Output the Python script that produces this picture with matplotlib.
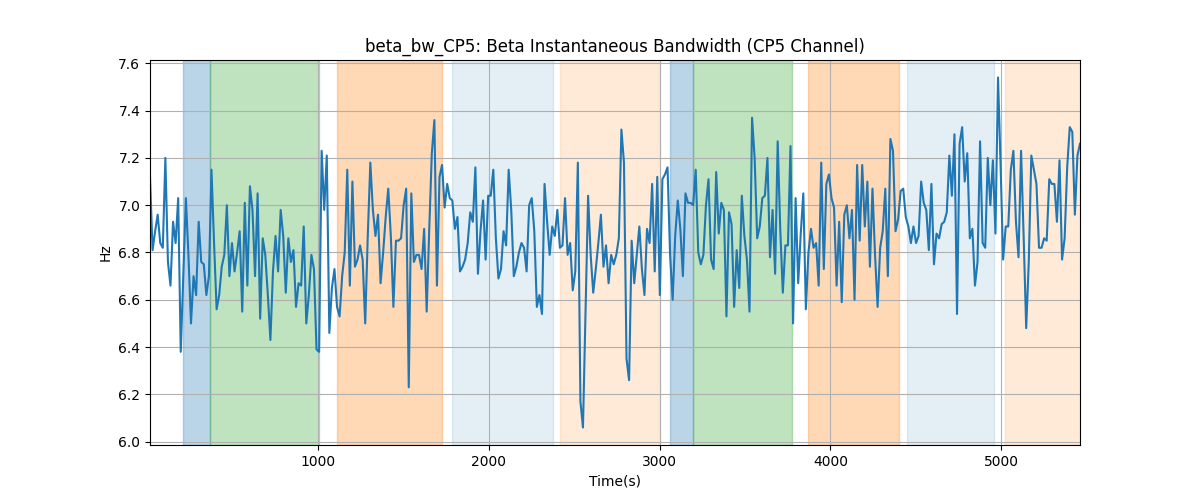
import numpy as np
import matplotlib
matplotlib.use("Agg")
import matplotlib.pyplot as plt

seg1 = [7.12, 6.81, 6.89, 6.96, 6.84, 6.82, 7.20, 6.76, 6.66, 6.93, 6.84, 7.03, 6.38, 6.70, 7.03,
        6.79, 6.50, 6.70, 6.62, 6.93, 6.76, 6.75, 6.62, 6.70, 7.15, 6.84, 6.56, 6.62, 6.74, 6.79,
        7.00, 6.70, 6.84, 6.72, 6.80, 6.89, 6.55, 7.01, 6.66, 7.08, 6.98, 6.70, 7.05, 6.52, 6.86]
seg2 = [6.79, 6.62, 6.43, 6.72, 6.87, 6.72, 6.98, 6.87, 6.63, 6.86, 6.76, 6.81, 6.57, 6.67, 6.66,
        6.91, 6.50, 6.62, 6.79, 6.73, 6.39, 6.38, 7.23, 6.98, 7.21, 6.46, 6.65, 6.73, 6.57, 6.53,
        6.70, 6.80, 7.15, 6.66, 7.10, 6.74, 6.77, 6.83, 6.77, 6.50, 6.87, 7.18, 6.98, 6.87, 6.96,
        6.67, 6.80]
seg3 = [6.95, 7.07, 6.87, 6.57, 6.85, 6.85, 6.86, 7.00, 7.07, 6.23, 7.05, 6.76, 6.79, 6.79, 6.73,
        6.90, 6.55, 6.90, 7.22, 7.36, 6.66, 7.12, 7.17, 6.99, 7.09, 7.03, 7.02, 6.90, 6.95, 6.72,
        6.74, 6.77, 6.84, 6.97, 6.93, 7.16, 6.71, 6.89, 7.02, 6.77, 7.04, 7.04, 7.15, 6.86, 6.69,
        6.73, 6.89, 6.83, 7.15, 6.98, 6.70]
seg4 = [6.74, 6.80, 6.84, 6.82, 6.72, 7.00, 7.03, 6.89, 6.57, 6.62, 6.54, 7.09, 6.93, 6.79, 6.91,
        6.87, 6.98, 6.82, 6.83, 7.03, 6.79, 6.84, 6.64, 6.72, 7.18, 6.17, 6.06, 6.55, 7.04, 6.79,
        6.63, 6.73, 6.84, 6.96, 6.74, 6.83, 6.67, 6.79, 6.75, 6.79, 6.86, 7.32, 7.18, 6.35, 6.26,
        6.85, 6.67]
seg5 = [6.79, 6.91, 6.73, 6.62, 6.90, 6.84, 7.09, 6.72, 7.12, 6.62, 7.11, 7.13, 7.16, 6.79, 6.60,
        6.87, 7.02, 6.90, 6.70, 7.05, 7.01, 7.01, 7.00, 7.15, 6.80, 6.75, 6.79, 7.00, 7.11, 6.77,
        6.73, 7.14, 6.88, 7.01, 6.98, 6.53, 6.97, 6.92, 6.57, 6.81, 6.65, 7.04, 6.87, 6.77, 6.55,
        7.37, 7.20]
seg6 = [6.86, 6.91, 7.03, 7.04, 7.20, 6.78, 6.98, 6.71, 7.27, 6.90, 6.63, 6.83, 6.83, 7.25, 6.50,
        7.03, 6.67, 6.88, 7.05, 6.56, 6.80, 6.90, 6.82, 6.84, 6.66, 7.18, 6.73, 7.09, 7.13, 7.03,
        6.99, 6.66, 6.93, 6.59, 6.96, 7.00, 6.86, 6.98, 6.60, 7.17, 6.85, 7.17, 6.91, 7.10, 6.74,
        7.07, 6.79]
seg7 = [6.57, 6.82, 6.89, 7.07, 6.70, 7.28, 7.23, 6.89, 6.94, 7.06, 7.07, 6.95, 6.91, 6.84, 6.91,
        6.84, 6.87, 7.10, 7.01, 6.98, 6.81, 7.09, 6.75, 6.88, 6.86, 6.92, 6.93, 6.97, 7.21, 7.04,
        7.30, 6.54, 7.26, 7.33, 7.10, 7.22, 6.86, 6.90, 6.66, 6.76, 7.27, 6.84, 6.82, 7.20, 7.00,
        7.19]
seg8 = [6.88, 7.54, 7.17, 6.77, 6.91, 6.91, 7.15, 7.23, 6.93, 6.78, 7.23, 6.87, 6.48, 6.76, 7.21,
        7.15, 7.09, 6.82, 6.82, 6.86, 6.85, 7.11, 7.09, 7.09, 6.93, 7.19, 6.77, 6.86, 7.16, 7.33,
        7.31, 6.96, 7.21, 7.26]

t_start = 16
t_end = 5461

span_starts = [210, 370, 1109, 1783, 2416, 3060, 3196, 3868, 4448, 5022]
span_ends = [370, 1008, 1728, 2375, 3001, 3196, 3772, 4401, 4957, 5470]
span_colors = ["tab:blue", "tab:green", "tab:orange", "tab:blue", "tab:orange",
               "tab:blue", "tab:green", "tab:orange", "tab:blue", "tab:orange"]
span_alphas = [0.3, 0.3, 0.3, 0.12, 0.16, 0.3, 0.3, 0.3, 0.12, 0.16]

values = np.array(seg1 + seg2 + seg3 + seg4 + seg5 + seg6 + seg7 + seg8)
t = np.linspace(t_start, t_end, len(values))

fig, ax = plt.subplots(figsize=(12, 5), dpi=100)
for s, e, c, a in zip(span_starts, span_ends, span_colors, span_alphas):
    ax.axvspan(s, e, color=c, alpha=a)
ax.plot(t, values, color="tab:blue", linewidth=1.5)
ax.set_xlim(t[0], t[-1])
ax.grid(True)
ax.set_title("beta_bw_CP5: Beta Instantaneous Bandwidth (CP5 Channel)")
ax.set_xlabel("Time(s)")
ax.set_ylabel("Hz")
fig.savefig("out.png", dpi=100)
